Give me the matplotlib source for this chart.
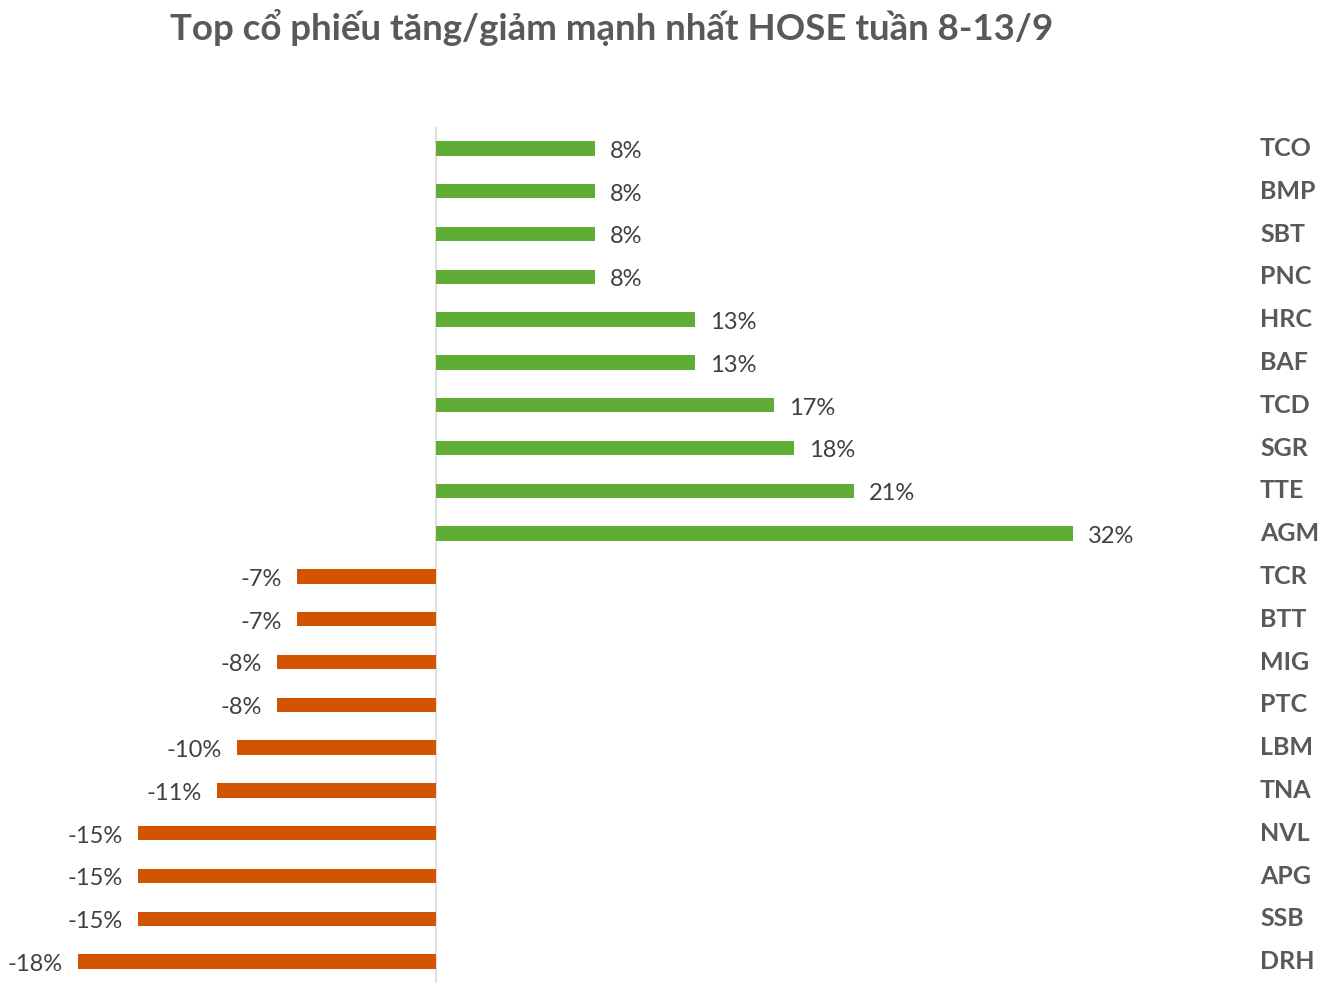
import numpy as np
import matplotlib
matplotlib.use("Agg")
import matplotlib.pyplot as plt

plt.rcParams['font.family'] = ['Lato', 'Open Sans', 'DejaVu Sans']

# du lieu: tu tren xuong duoi
ma_cp = ['TCO', 'BMP', 'SBT', 'PNC', 'HRC', 'BAF', 'TCD', 'SGR', 'TTE', 'AGM',
         'TCR', 'BTT', 'MIG', 'PTC', 'LBM', 'TNA', 'NVL', 'APG', 'SSB', 'DRH']
bien_dong = [8, 8, 8, 8, 13, 13, 17, 18, 21, 32,
             -7, -7, -8, -8, -10, -11, -15, -15, -15, -18]

XANH = '#5FAD35'
CAM = '#D35400'
CHU = '#404040'

fig = plt.figure(figsize=(13.38, 9.88), dpi=100)
ax = fig.add_axes([38 / 1338, 1 - 983 / 988, (1232 - 38) / 1338, (983 - 127) / 988])

y = np.arange(len(ma_cp))
mau = [XANH if v > 0 else CAM for v in bien_dong]
ax.barh(y, bien_dong, height=0.34, color=mau, zorder=2)

for yi, v in zip(y, bien_dong):
    if v > 0:
        ax.text(v + 0.75, yi + 0.07, f'{v}%', ha='left', va='center',
                fontsize=17, color=CHU)
    else:
        ax.text(v - 0.75, yi + 0.07, f'{v}%', ha='right', va='center',
                fontsize=17, color=CHU)

# nhan ma co phieu ben phai
x_nhan = (1260 - 38) / (1232 - 38)
for yi, ten in zip(y, ma_cp):
    ax.text(x_nhan, yi, ten, transform=ax.get_yaxis_transform(),
            ha='left', va='center', fontsize=18, fontweight='bold', color='#595959')

ax.set_xlim(-20, 40)
ax.set_ylim(len(ma_cp) - 0.5, -0.5)
ax.axvline(0, color='#D9D9D9', linewidth=1.2, zorder=1)
ax.set_xticks([])
ax.set_yticks([])
for s in ax.spines.values():
    s.set_visible(False)

fig.text(612 / 1338, 1 - 27 / 988, 'Top cổ phiếu tăng/giảm mạnh nhất HOSE tuần 8-13/9',
         ha='center', va='center', fontsize=26.4, fontweight='bold', color='#595959')

fig.savefig('out.png', dpi=100)
